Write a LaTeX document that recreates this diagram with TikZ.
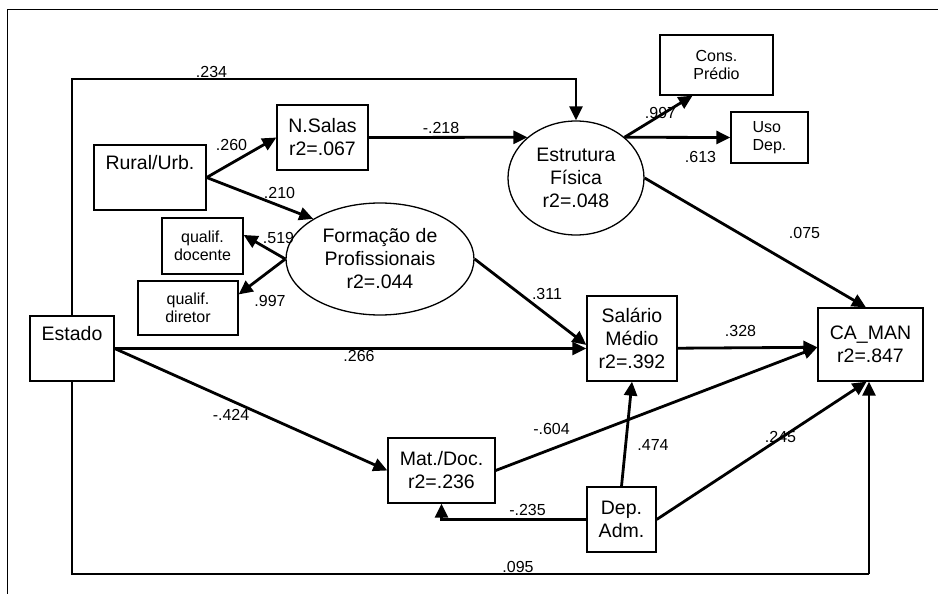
\documentclass[tikz,border=0pt]{standalone}
\usepackage{fontspec}
\setmainfont{Liberation Sans}
\usetikzlibrary{arrows.meta,shapes.geometric}

\begin{document}
\begin{tikzpicture}
  [x=1pt, y=-1pt,
   box/.style={draw, line width=1.3pt, inner sep=0pt, align=center,
     font=\fontsize{19.5}{23}\selectfont},
   smallbox/.style={draw, line width=1.3pt, inner sep=0pt, align=center,
     font=\fontsize{16}{18}\selectfont},
   latent/.style={ellipse, draw, line width=1.3pt, inner sep=0pt, align=center,
     font=\fontsize{19.5}{23}\selectfont},
   effect/.style={line width=2.8pt, -{Triangle[length=14pt,width=13pt]}},
   coef/.style={inner sep=0pt, font=\fontsize{16}{18}\selectfont}]
\useasboundingbox (0,0) rectangle (938,594);
\draw[line width=1pt] (7,594) -- (7,10) -- (938,10);

% variables
\node[box, minimum width=112pt, minimum height=65pt] (rural) at (150,177.5) {Rural/Urb.\\[8pt]\mbox{}};
\node[box, minimum width=84pt, minimum height=65pt] (estado) at (72,348.5) {Estado\\[8pt]\mbox{}};
\node[box, minimum width=91pt, minimum height=65pt] (nsalas) at (322.5,137.5) {N.Salas\\r2=.067};
\node[latent, minimum width=136pt, minimum height=114pt] (estr) at (576,178) {Estrutura\\Física\\r2=.048};
\node[smallbox, minimum width=113pt, minimum height=60pt] (cons) at (716.5,65) {Cons.\\Prédio};
\node[smallbox, minimum width=77pt, minimum height=51pt, align=left] (uso) at (769.5,137.5) {Uso\\Dep.};
\node[latent, minimum width=188pt, minimum height=112pt] (form) at (380,259) {Formação de\\Profissionais\\r2=.044};
\node[smallbox, minimum width=81pt, minimum height=56pt] (docente) at (202.5,246) {qualif.\\docente};
\node[smallbox, minimum width=100pt, minimum height=54pt] (diretor) at (188,308) {qualif.\\diretor};
\node[box, minimum width=90pt, minimum height=85pt] (salario) at (632,338.5) {Salário\\Médio\\r2=.392};
\node[box, minimum width=105pt, minimum height=73pt] (ca) at (870.5,344.5) {CA\_MAN\\r2=.847};
\node[box, minimum width=107pt, minimum height=65pt] (mat) at (441.5,470.5) {Mat./Doc.\\r2=.236};
\node[box, minimum width=69pt, minimum height=65pt] (dep) at (621.5,519.5) {Dep.\\Adm.};

% paths
\coordinate (tl) at (72,79);
\coordinate (br) at (869,574);
\draw[effect] (estado.north) -- (tl) -| (estr.north);
\draw[effect] (rural.east) -- (nsalas.west);
\draw[effect] (nsalas.east) -- (estr.140);
\draw[effect] (rural.east) -- (form.149);
\draw[effect] (form.west) -- (docente.15);
\draw[effect] (form.west) -- (diretor.15);
\draw[effect] (estr.40) -- (cons.232);
\draw[effect] (estr.40) -- (uso.west);
\draw[effect] (estr.east) -- (ca.97);
\draw[effect] (form.east) -- (salario.188);
\draw[effect] (estado.east) -- (estado.east -| salario.west);
\draw[effect] (estado.east) -- (mat.west);
\draw[effect] (salario.-12) -- (ca.183);
\draw[effect] (mat.east) -- (ca.183);
\draw[effect] (dep.north) -- (salario.south);
\draw[effect] (dep.west) -| (mat.south);
\draw[effect] (dep.east) -- (ca.264);
\draw[line width=1.3pt] (estado.south) |- (br);
\draw[effect] (br) -- (br |- ca.south);

% coefficients
\node[coef] (c234) at (211.5,72) {.234};
\node[coef] (c260) at (231.5,145) {.260};
\node[coef] (c218) at (441,128) {-.218};
\node[coef] (c210) at (279.5,193) {.210};
\node[coef] (c519) at (278.5,238) {.519};
\node[coef] (c997a) at (270,301) {.997};
\node[coef] (c997b) at (660.5,113) {.997};
\node[coef] (c613) at (700.5,157) {.613};
\node[coef] (c075) at (804.5,233) {.075};
\node[coef] (c311) at (547,294) {.311};
\node[coef] (c266) at (359,356) {.266};
\node[coef] (c424) at (231,415) {-.424};
\node[coef] (c328) at (740.5,331) {.328};
\node[coef] (c604) at (551.5,429) {-.604};
\node[coef] (c474) at (653,445) {.474};
\node[coef] (c245) at (780.5,437) {.245};
\node[coef] (c235) at (527.5,510) {-.235};
\node[coef] (c095) at (518,567) {.095};
\end{tikzpicture}
\end{document}
